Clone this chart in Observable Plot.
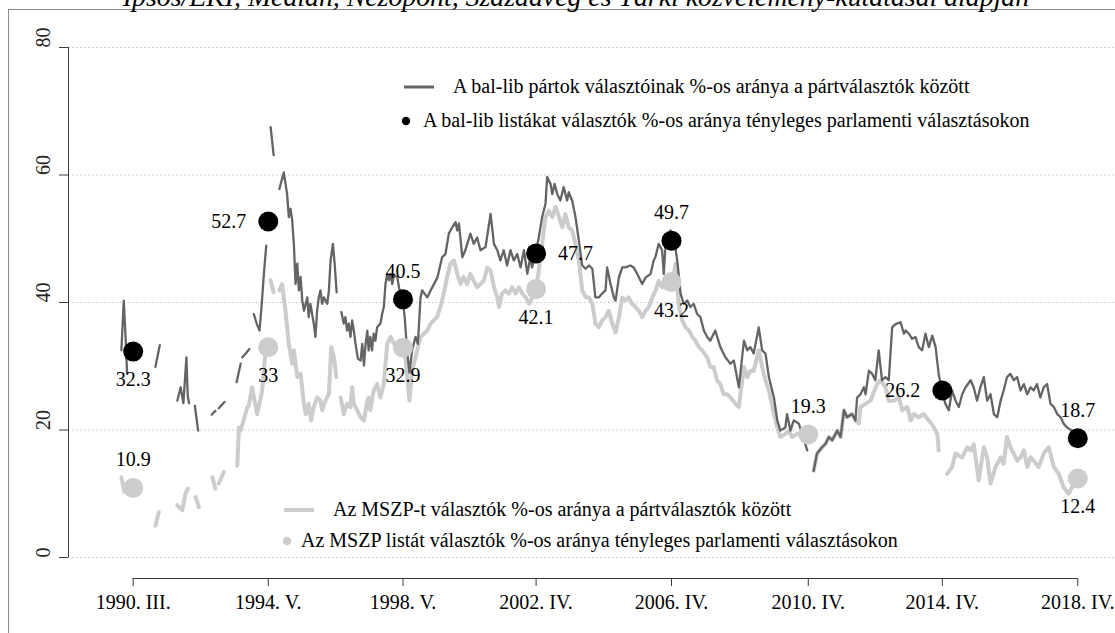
<!DOCTYPE html>
<html><head><meta charset="utf-8">
<script src="https://cdn.jsdelivr.net/npm/d3@7"></script>
<script src="https://cdn.jsdelivr.net/npm/@observablehq/plot@0.6"></script>
<style>body{margin:0;background:#fff;} svg{display:block}</style>
</head><body><div id="chart"></div>
<script>
// ---------- DATA ----------
const titleText = "Ipsos/EKI, Medián, Nézőpont, Századvég és Tárki közvélemény-kutatásai alapján";
const legendBalLine = "A bal-lib pártok választóinak %-os aránya a pártválasztók között";
const legendBalDot = "A bal-lib listákat választók %-os aránya tényleges parlamenti választásokon";
const legendMszpLine = "Az MSZP-t választók %-os aránya a pártválasztók között";
const legendMszpDot = "Az MSZP listát választók %-os aránya tényleges parlamenti választásokon";

const yTicks = [0, 20, 40, 60, 80];
const electionX = [1990.23, 1994.24, 1998.24, 2002.19, 2006.21, 2010.27, 2014.25, 2018.27];
const electionLabels = ["1990. III.", "1994. V.", "1998. V.", "2002. IV.", "2006. IV.", "2010. IV.", "2014. IV.", "2018. IV."];
const balVotes  = [32.3, 52.7, 40.5, 47.7, 49.7, null, 26.2, 18.7];
const mszpVotes = [10.9, 33, 32.9, 42.1, 43.2, 19.3, null, 12.4];
const balLabelPos  = ["below", "left", "above", "right", "above", null, "left", "above"];
const mszpLabelPos = ["above", "below", "below", "below", "below", "above", null, "below"];

// bal-lib parties, share among party voters (null = gap)
const balLib = [
 [1989.88,32.5],[1989.95,40.3],[1990.00,35.1],[1990.05,28.8],[1990.3,null],
 [1990.89,29.9],[1991.02,33.3],[1991.3,null],
 [1991.54,24.6],[1991.64,26.7],[1991.72,24.2],[1991.81,31.4],[1991.85,25.3],[1991.89,24.2],[1992.0,null],
 [1992.06,23.8],[1992.16,19.9],[1992.4,null],
 [1992.56,22.4],[1992.67,23.0],[1992.72,null],
 [1992.77,23.4],[1992.94,24.4],[1993.1,null],
 [1993.30,27.5],[1993.42,30.4],[1993.445,null],
 [1993.47,31.4],[1993.57,32.0],[1993.68,32.7],[1993.75,null],
 [1993.81,38.2],[1993.91,36.5],[1993.98,35.6],[1994.05,40.0],[1994.11,44.5],[1994.18,48.9],[1994.25,null],
 [1994.31,67.5],[1994.40,63.1],[1994.5,null],
 [1994.57,57.8],[1994.70,60.4],[1994.80,57.0],[1994.85,53.4],[1994.90,54.7],[1994.95,52.9],[1995.00,49.2],[1995.05,42.9],[1995.10,46.1],[1995.15,41.9],[1995.20,44.0],[1995.25,40.3],[1995.30,38.7],[1995.40,40.8],[1995.44,37.7],[1995.49,39.8],[1995.59,36.7],[1995.64,34.6],[1995.69,38.7],[1995.74,40.8],[1995.79,41.9],[1995.84,39.8],[1995.89,40.8],[1995.99,39.8],[1996.04,41.9],[1996.09,46.6],[1996.16,49.2],[1996.21,46.1],[1996.27,41.6],[1996.34,null],
 [1996.41,38.5],[1996.48,36.7],[1996.53,37.7],[1996.58,35.6],[1996.63,36.7],[1996.68,34.6],[1996.73,37.2],[1996.78,35.6],[1996.83,33.5],[1996.90,31.2],[1996.98,30.9],[1997.03,33.5],[1997.08,30.1],[1997.13,33.5],[1997.18,35.6],[1997.22,32.5],[1997.27,34.6],[1997.32,32.5],[1997.37,35.1],[1997.42,34.0],[1997.47,36.1],[1997.57,36.7],[1997.62,38.2],[1997.67,39.3],[1997.72,42.9],[1997.77,44.5],[1997.82,43.5],[1997.87,44.5],[1997.92,42.9],[1997.97,44.2],[1998.07,44.0],[1998.12,42.4],[1998.23,40.3],[1998.29,37.7],[1998.36,32.5],[1998.43,29.0],[1998.51,32.5],[1998.61,34.6],[1998.68,33.5],[1998.76,40.8],[1998.81,41.9],[1998.96,40.8],[1999.06,41.9],[1999.26,43.9],[1999.40,47.1],[1999.50,47.6],[1999.60,50.8],[1999.70,51.8],[1999.80,52.6],[1999.85,51.3],[1999.90,52.4],[2000.00,47.1],[2000.09,48.2],[2000.24,50.8],[2000.34,49.2],[2000.44,50.2],[2000.54,48.2],[2000.69,48.7],[2000.84,53.9],[2000.94,49.2],[2001.04,48.2],[2001.13,46.6],[2001.23,48.2],[2001.33,45.8],[2001.43,48.2],[2001.53,46.6],[2001.63,47.6],[2001.73,45.5],[2001.83,48.2],[2001.93,44.5],[2002.02,47.1],[2002.07,45.5],[2002.17,47.6],[2002.27,50.2],[2002.37,53.4],[2002.47,55.5],[2002.52,59.7],[2002.62,58.6],[2002.67,57.0],[2002.74,58.6],[2002.82,57.0],[2002.91,56.0],[2003.01,58.1],[2003.11,56.0],[2003.16,57.3],[2003.26,56.0],[2003.36,53.4],[2003.46,49.7],[2003.56,45.8],[2003.66,45.3],[2003.76,45.8],[2003.86,45.3],[2003.95,40.8],[2004.05,40.8],[2004.15,41.4],[2004.25,41.9],[2004.30,45.5],[2004.40,42.9],[2004.50,40.8],[2004.55,40.3],[2004.65,44.0],[2004.75,45.5],[2004.84,45.5],[2004.99,45.8],[2005.09,45.5],[2005.19,44.5],[2005.34,42.9],[2005.44,43.9],[2005.59,44.5],[2005.68,46.6],[2005.73,47.1],[2005.83,49.2],[2005.93,48.2],[2005.98,44.5],[2006.03,48.7],[2006.13,50.2],[2006.18,51.3],[2006.28,50.2],[2006.38,46.6],[2006.48,41.4],[2006.57,39.8],[2006.68,40.3],[2006.77,39.3],[2006.87,39.8],[2006.97,38.2],[2007.07,37.7],[2007.17,35.6],[2007.27,34.6],[2007.36,34.0],[2007.51,35.6],[2007.66,33.0],[2007.81,31.4],[2007.96,30.4],[2008.06,30.9],[2008.21,26.7],[2008.36,34.0],[2008.46,32.5],[2008.55,33.0],[2008.65,32.0],[2008.80,36.1],[2008.90,32.5],[2009.00,32.0],[2009.10,28.3],[2009.25,25.1],[2009.35,21.5],[2009.44,19.9],[2009.59,20.4],[2009.64,22.5],[2009.74,19.9],[2009.84,21.5],[2009.99,21.0],[2010.09,19.4],[2010.24,16.8],[2010.33,null],
 [2010.43,13.6],[2010.53,16.3],[2010.68,17.3],[2010.78,17.8],[2010.88,18.9],[2010.98,18.4],[2011.13,19.9],[2011.23,18.9],[2011.33,23.1],[2011.42,22.0],[2011.57,22.5],[2011.67,21.5],[2011.72,25.1],[2011.82,25.6],[2011.92,26.7],[2011.97,25.6],[2012.07,29.3],[2012.17,28.8],[2012.26,27.8],[2012.36,32.5],[2012.46,27.8],[2012.56,28.3],[2012.66,27.8],[2012.76,36.1],[2012.86,36.6],[2013.01,36.9],[2013.11,35.1],[2013.16,35.6],[2013.26,35.1],[2013.35,34.3],[2013.45,34.6],[2013.55,33.0],[2013.65,32.5],[2013.75,35.1],[2013.85,33.0],[2013.95,34.8],[2014.05,33.0],[2014.14,28.8],[2014.24,26.2],[2014.34,24.1],[2014.44,23.1],[2014.54,26.2],[2014.64,24.6],[2014.74,23.6],[2014.84,25.6],[2014.94,26.7],[2015.09,27.8],[2015.18,26.7],[2015.28,24.6],[2015.38,26.7],[2015.48,28.3],[2015.58,24.6],[2015.68,25.6],[2015.78,22.5],[2015.88,22.0],[2015.98,24.6],[2016.07,26.2],[2016.17,28.3],[2016.27,28.8],[2016.37,27.8],[2016.47,28.3],[2016.57,26.2],[2016.67,27.2],[2016.77,25.6],[2016.87,26.7],[2016.96,26.2],[2017.06,27.2],[2017.16,25.1],[2017.26,26.7],[2017.36,27.2],[2017.46,24.1],[2017.56,23.6],[2017.66,22.5],[2017.76,22.0],[2017.85,21.0],[2017.95,20.4],[2018.10,19.9],[2018.25,18.9]
];

// MSZP, share among party voters (null = gap)
const mszp = [
 [1989.88,12.6],[1989.97,10.3],[1990.05,11.3],[1990.3,null],
 [1990.89,5.0],[1990.99,7.1],[1991.3,null],
 [1991.54,8.2],[1991.69,7.4],[1991.78,10.0],[1991.85,10.8],[1992.0,null],
 [1992.08,9.5],[1992.18,7.9],[1992.4,null],
 [1992.58,12.6],[1992.67,10.8],[1992.72,null],
 [1992.77,11.6],[1992.92,13.4],[1993.1,null],
 [1993.32,14.4],[1993.37,20.4],[1993.395,null],
 [1993.42,19.9],[1993.62,23.6],[1993.66,23.8],[1993.76,26.7],[1993.91,22.5],[1994.06,26.2],[1994.16,32.5],[1994.25,null],
 [1994.31,43.5],[1994.40,41.6],[1994.5,null],
 [1994.57,41.9],[1994.65,42.9],[1994.75,38.7],[1994.85,33.5],[1994.95,30.4],[1995.00,32.5],[1995.10,28.3],[1995.20,28.8],[1995.30,24.1],[1995.35,22.5],[1995.44,24.1],[1995.51,21.5],[1995.59,23.6],[1995.69,25.1],[1995.79,24.6],[1995.84,23.1],[1995.94,24.6],[1996.04,25.7],[1996.11,33.0],[1996.19,31.4],[1996.26,28.3],[1996.33,null],
 [1996.39,25.1],[1996.48,22.5],[1996.58,24.1],[1996.68,23.6],[1996.73,26.7],[1996.78,24.1],[1996.88,23.1],[1996.98,22.0],[1997.08,21.5],[1997.18,24.6],[1997.22,25.1],[1997.27,23.1],[1997.37,26.2],[1997.47,27.2],[1997.57,25.1],[1997.67,27.2],[1997.77,33.5],[1997.87,34.6],[1997.97,33.5],[1998.07,33.5],[1998.16,33.0],[1998.31,31.4],[1998.43,24.6],[1998.51,29.3],[1998.61,31.4],[1998.66,32.5],[1998.76,34.6],[1998.86,35.1],[1998.96,35.6],[1999.06,36.7],[1999.15,37.2],[1999.25,37.7],[1999.35,39.3],[1999.45,41.4],[1999.55,44.0],[1999.65,46.1],[1999.75,46.6],[1999.85,44.5],[1999.95,42.9],[2000.04,44.0],[2000.14,42.9],[2000.24,44.5],[2000.34,43.4],[2000.44,42.4],[2000.54,42.9],[2000.64,43.4],[2000.74,45.5],[2000.84,45.0],[2000.94,42.4],[2001.04,40.8],[2001.09,39.3],[2001.18,41.4],[2001.28,41.9],[2001.38,41.4],[2001.48,42.4],[2001.58,41.4],[2001.68,42.4],[2001.78,41.4],[2001.88,40.8],[2001.98,39.8],[2002.08,40.8],[2002.18,41.9],[2002.27,45.0],[2002.37,49.2],[2002.47,53.4],[2002.57,54.4],[2002.67,53.4],[2002.77,55.0],[2002.87,53.4],[2002.97,51.8],[2003.06,53.9],[2003.16,51.8],[2003.26,51.3],[2003.36,49.2],[2003.46,46.6],[2003.56,41.9],[2003.66,40.8],[2003.76,40.8],[2003.86,39.8],[2003.95,36.7],[2004.05,36.1],[2004.15,37.2],[2004.25,37.7],[2004.35,38.7],[2004.45,36.7],[2004.55,35.3],[2004.65,37.7],[2004.75,40.8],[2004.84,40.3],[2004.94,40.8],[2005.04,39.8],[2005.14,39.3],[2005.24,38.7],[2005.34,37.7],[2005.44,38.7],[2005.54,39.3],[2005.64,40.8],[2005.74,41.9],[2005.83,43.4],[2005.93,42.4],[2006.03,44.0],[2006.13,44.0],[2006.23,42.9],[2006.33,46.1],[2006.43,39.3],[2006.53,37.2],[2006.63,36.1],[2006.73,35.6],[2006.83,34.6],[2006.92,34.0],[2007.02,33.0],[2007.12,32.5],[2007.27,31.4],[2007.36,29.9],[2007.46,29.9],[2007.56,27.8],[2007.66,27.2],[2007.76,25.6],[2007.86,25.6],[2007.96,25.1],[2008.11,24.1],[2008.21,23.6],[2008.36,29.9],[2008.46,28.3],[2008.55,29.3],[2008.65,29.3],[2008.80,32.5],[2008.90,29.9],[2009.00,27.8],[2009.10,26.2],[2009.25,22.5],[2009.35,20.4],[2009.44,18.9],[2009.59,19.4],[2009.69,19.9],[2009.79,18.9],[2009.94,19.4],[2010.09,19.4],[2010.33,null],
 [2010.43,13.6],[2010.53,16.3],[2010.68,17.3],[2010.78,17.8],[2010.88,18.9],[2010.98,18.4],[2011.13,19.9],[2011.23,18.9],[2011.33,23.1],[2011.42,22.0],[2011.57,22.5],[2011.67,21.5],[2011.77,21.0],[2011.82,23.6],[2011.97,24.1],[2012.12,24.6],[2012.31,27.2],[2012.41,27.8],[2012.56,26.7],[2012.66,24.6],[2012.81,24.6],[2012.96,25.1],[2013.06,23.1],[2013.21,23.6],[2013.31,21.5],[2013.40,22.5],[2013.55,22.0],[2013.70,22.5],[2013.85,21.5],[2014.00,20.4],[2014.10,19.4],[2014.14,16.8],[2014.26,null],
 [2014.39,13.1],[2014.54,14.2],[2014.64,16.3],[2014.84,15.7],[2014.99,17.3],[2015.09,16.8],[2015.18,17.8],[2015.33,12.1],[2015.48,17.3],[2015.58,15.7],[2015.68,11.6],[2015.83,14.2],[2015.98,15.7],[2016.07,14.7],[2016.17,18.9],[2016.27,17.3],[2016.37,16.3],[2016.47,15.2],[2016.57,15.7],[2016.67,16.8],[2016.77,14.2],[2016.87,15.7],[2016.96,15.2],[2017.11,14.2],[2017.26,16.3],[2017.41,17.3],[2017.56,14.2],[2017.71,13.1],[2017.85,11.0],[2018.00,10.0],[2018.15,11.6]
];

// ---------- STYLE ----------
const xDomain = [1988.31, 2019.39];
const darkGray = "#646464", lightGray = "#cccccc", axisColor = "#3a3a3a";
const serif = "'Liberation Serif', 'Times New Roman', serif";
const FS = 20;

const elections = electionX.map((x, i) => ({
  x, label: electionLabels[i], bal: balVotes[i], mszp: mszpVotes[i],
  balPos: balLabelPos[i], mszpPos: mszpLabelPos[i]
}));
const labelOf = new Map(electionX.map((x, i) => [x, electionLabels[i]]));
const offsets = {
  above: {dy: -28, textAnchor: "middle"},
  below: {dy: 28, textAnchor: "middle"},
  left:  {dx: -22, textAnchor: "end"},
  right: {dx: 22, textAnchor: "start"}
};
const labelMarks = [];
for (const pos of Object.keys(offsets)) {
  labelMarks.push(Plot.text(elections.filter(d => d.bal != null && d.balPos === pos),
    {x: "x", y: "bal", text: d => String(d.bal), fontSize: FS, fontFamily: serif, fill: "#000", ...offsets[pos]}));
  labelMarks.push(Plot.text(elections.filter(d => d.mszp != null && d.mszpPos === pos),
    {x: "x", y: "mszp", text: d => String(d.mszp), fontSize: FS, fontFamily: serif, fill: "#000", ...offsets[pos]}));
}

const chart = Plot.plot({
  width: 1115, height: 633,
  marginLeft: 68, marginRight: 0, marginTop: 47, marginBottom: 76,
  x: {domain: xDomain, axis: null},
  y: {domain: [0, 80], axis: null},
  style: {fontFamily: serif, fontSize: FS + "px", background: "#fff", overflow: "visible"},
  marks: [
    Plot.ruleY(yTicks, {stroke: "#c2c2c2", strokeDasharray: "1.5,2.5", strokeWidth: 1}),
    Plot.ruleX([xDomain[0]], {y1: yTicks[0], y2: yTicks[yTicks.length - 1], stroke: axisColor}),
    Plot.axisY({ticks: yTicks, tickSize: 9, tickFormat: () => "", label: null, stroke: axisColor}),
    Plot.text(yTicks, {y: d => d, text: d => String(d), frameAnchor: "left", dx: -25, rotate: -90, fontSize: FS, fontFamily: serif, fill: "#222"}),
    Plot.ruleY([yTicks[0]], {x1: electionX[0], x2: electionX[electionX.length - 1], dy: 21, stroke: axisColor}),
    Plot.axisX({ticks: electionX, tickFormat: d => labelOf.get(d), tickSize: 8, tickPadding: 8, dy: 21, fontSize: FS, fontFamily: serif, label: null, stroke: axisColor}),
    Plot.line(mszp, {x: d => d[0], y: d => d[1], stroke: lightGray, strokeWidth: 4}),
    Plot.line(balLib, {x: d => d[0], y: d => d[1], stroke: darkGray, strokeWidth: 2.3}),
    Plot.dot(elections.filter(d => d.mszp != null), {x: "x", y: "mszp", r: 10, fill: lightGray}),
    Plot.dot(elections.filter(d => d.bal != null), {x: "x", y: "bal", r: 10, fill: "#000"}),
    ...labelMarks
  ]
});
document.getElementById("chart").appendChild(chart);

// ---------- FRAME, TITLE, LEGENDS ----------
const svg = d3.select(chart);
svg.append("rect").attr("x", 8.5).attr("y", 9.5).attr("width", 1300).attr("height", 800)
  .attr("fill", "none").attr("stroke", "#8a8a8a").attr("stroke-width", 1);
svg.append("text").attr("x", 576).attr("y", 6).attr("text-anchor", "middle")
  .attr("font-family", serif).attr("font-style", "italic").attr("font-size", 27.8).attr("fill", "#000")
  .text(titleText);

function legendRow(g, y, kind, color, x0, xText, text) {
  if (kind === "line") {
    g.append("line").attr("x1", x0).attr("x2", x0 + 30).attr("y1", y).attr("y2", y)
      .attr("stroke", color).attr("stroke-width", color === lightGray ? 4 : 3);
  } else {
    g.append("circle").attr("cx", x0 + 2).attr("cy", y).attr("r", 4.2).attr("fill", color);
  }
  g.append("text").attr("x", xText).attr("y", y).attr("dy", "0.32em").attr("text-anchor", "start")
    .attr("font-family", serif).attr("font-size", FS).attr("fill", "#000").text(text);
}
const lg = svg.append("g");
legendRow(lg, 87, "line", darkGray, 404, 453, legendBalLine);
legendRow(lg, 121, "dot", "#000", 404, 423, legendBalDot);
legendRow(lg, 510, "line", lightGray, 284, 333, legendMszpLine);
legendRow(lg, 541, "dot", lightGray, 285, 301, legendMszpDot);
</script></body></html>
